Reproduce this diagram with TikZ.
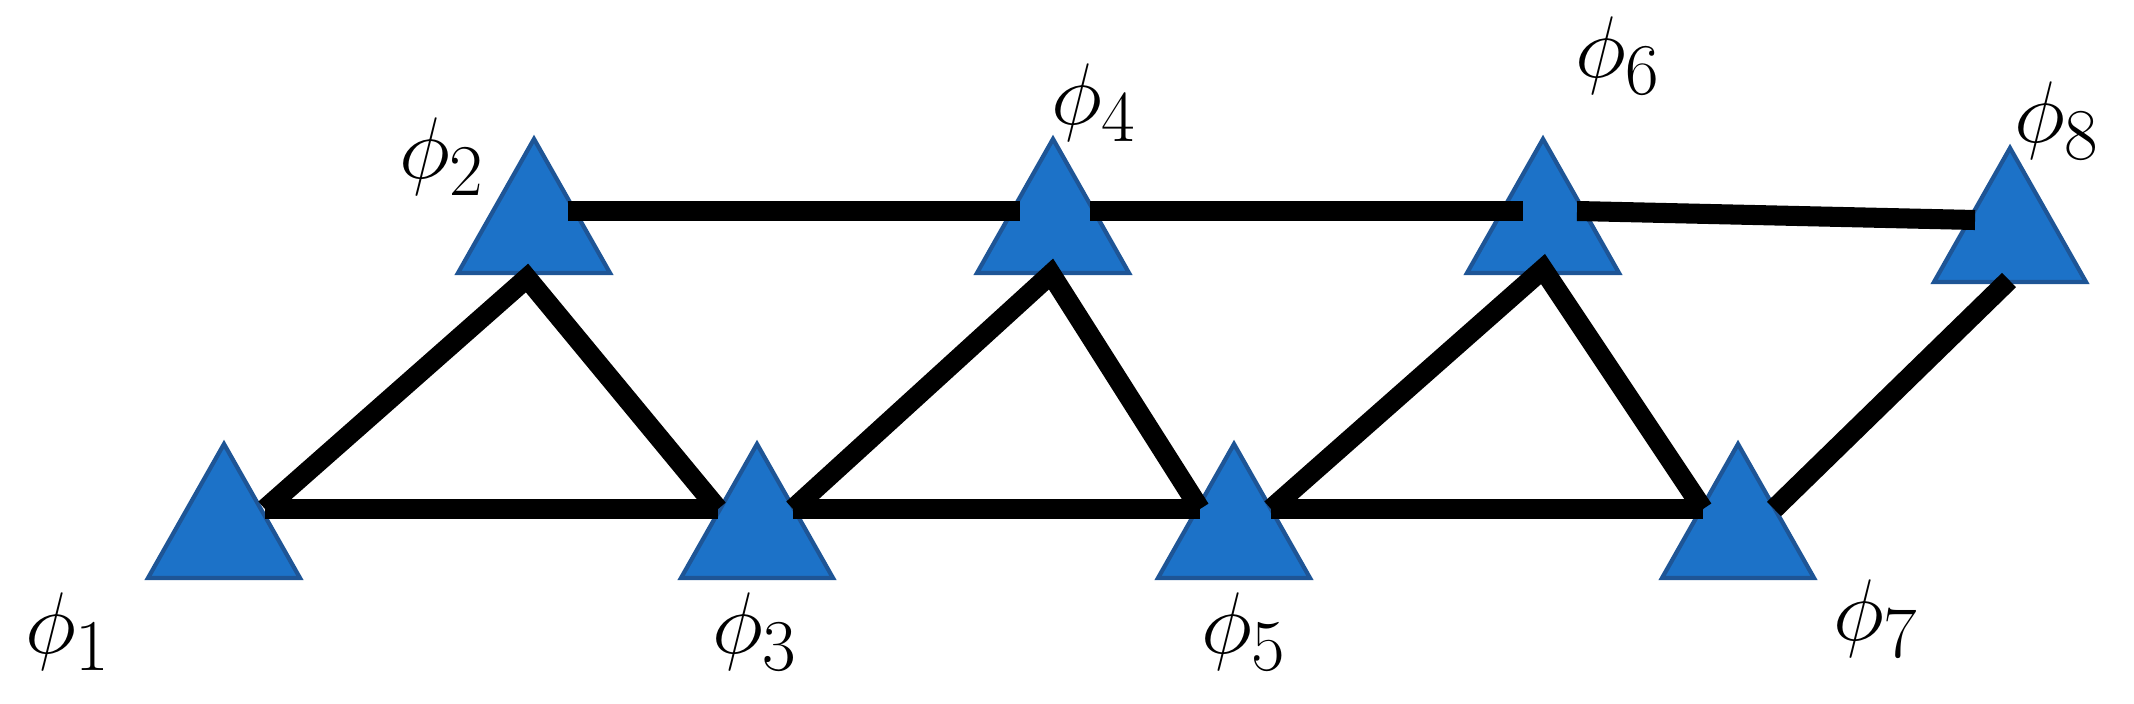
\documentclass[tikz,border=0pt]{standalone}
\definecolor{triblue}{RGB}{28,114,200}
\definecolor{triedge}{RGB}{30,85,150}
\begin{document}
\begin{tikzpicture}[x=0.01cm,y=-0.01cm,
  tri/.style={fill=triblue,draw=triedge,line width=1.2pt,line join=miter},
  edge/.style={line width=5.7pt,black},
  lab/.style={font=\fontsize{30}{36}\selectfont}]
\useasboundingbox (0,0) rectangle (2134,703);
% triangles: apex coordinates
\foreach \n/\x/\y in {1/224/444,2/534/139,3/757/444,4/1053/139,5/1234/444,6/1543/139,7/1738/444,8/2010/148}{
  \coordinate (t\n) at (\x,\y);
  \draw[tri] (t\n) -- ++(-76,134) -- ++(152,0) -- cycle;
}
% connection points
\coordinate (a1) at (265,509);
\coordinate (b2) at (527,278);  \coordinate (h2) at (568,211);
\coordinate (a3l) at (718,509); \coordinate (a3r) at (793,509);
\coordinate (b4) at (1051,274); \coordinate (h4l) at (1020,211); \coordinate (h4r) at (1090,211);
\coordinate (a5l) at (1200,509); \coordinate (a5r) at (1271,509);
\coordinate (b6) at (1543,269); \coordinate (h6l) at (1523,211); \coordinate (h6r) at (1577,211);
\coordinate (a7) at (1703,509); \coordinate (a7r) at (1774,509);
\coordinate (h8) at (1975,220); \coordinate (b8) at (2009,280);
% edges
\draw[edge] (a1) -- (a3l);
\draw[edge] (a3r) -- (a5l);
\draw[edge] (a5r) -- (a7);
\draw[edge] (a1) -- (b2) -- (a3l);
\draw[edge] (a3r) -- (b4) -- (a5l);
\draw[edge] (a5r) -- (b6) -- (a7);
\draw[edge] (a7r) -- (b8);
\draw[edge] (h2) -- (h4l);
\draw[edge] (h4r) -- (h6l);
\draw[edge] (h6r) -- (h8);
% labels
\node[lab] (l1) at (68,632) {$\phi_1$};
\node[lab] (l2) at (442,157) {$\phi_2$};
\node[lab] (l3) at (755,632) {$\phi_3$};
\node[lab] (l4) at (1094,103) {$\phi_4$};
\node[lab] (l5) at (1244,632) {$\phi_5$};
\node[lab] (l6) at (1618,56) {$\phi_6$};
\node[lab] (l7) at (1876,619) {$\phi_7$};
\node[lab] (l8) at (2057,121) {$\phi_8$};
\end{tikzpicture}
\end{document}
